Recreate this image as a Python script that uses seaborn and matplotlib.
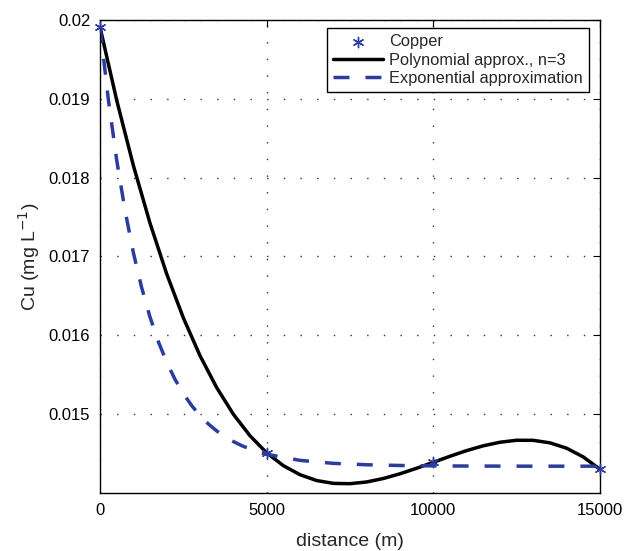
import numpy as np
import matplotlib
matplotlib.use("Agg")
import matplotlib.pyplot as plt
import seaborn as sb

# measured copper concentrations
copper_x = [0, 5000, 10000, 15000]
copper_y = [0.01991, 0.01451, 0.01439, 0.01430]

# polynomial approximation (n=3)
poly_x = [0, 500, 1000, 1500, 2000, 2500, 3000, 3500, 4000, 4500, 5000,
          5500, 6000, 6500, 7000, 7500, 8000, 8500, 9000, 9500, 10000,
          10500, 11000, 11500, 12000, 12500, 13000, 13500, 14000, 14500, 15000]
poly_y = [0.019910, 0.018983, 0.018156, 0.017423, 0.016780, 0.016222, 0.015742,
          0.015337, 0.015000, 0.014726, 0.014510, 0.014347, 0.014232, 0.014158,
          0.014122, 0.014118, 0.014140, 0.014184, 0.014244, 0.014314, 0.014390,
          0.014466, 0.014538, 0.014599, 0.014644, 0.014669, 0.014668, 0.014636,
          0.014568, 0.014457, 0.014300]

# exponential approximation
exp_x = [0, 250, 500, 750, 1000, 1250, 1500, 1750, 2000, 2250, 2500, 2750,
         3000, 3250, 3500, 3750, 4000, 4250, 4500, 4750, 5000,
         6000, 7000, 8000, 9000, 10000, 11000, 12000, 13000, 14000, 15000]
exp_y = [0.019910, 0.018993, 0.018226, 0.017586, 0.017051, 0.016605, 0.016232,
         0.015920, 0.015660, 0.015442, 0.015261, 0.015109, 0.014982, 0.014876,
         0.014788, 0.014714, 0.014653, 0.014601, 0.014558, 0.014522, 0.014492,
         0.014414, 0.014376, 0.014358, 0.014349, 0.014344, 0.014342, 0.014341,
         0.014340, 0.014340, 0.014340]

xticks = [0, 5000, 10000, 15000]
yticks = [0.015, 0.016, 0.017, 0.018, 0.019, 0.020]
ytick_labels = ["0.015", "0.016", "0.017", "0.018", "0.019", "0.02"]

blue = "#2b3c9e"

sb.set_style("white")
plt.rcParams["font.family"] = ["Liberation Sans", "DejaVu Sans"]

fig = plt.figure(figsize=(6.29, 5.51), dpi=100)
ax = fig.add_axes([100 / 629, 1 - 493 / 551, 500 / 629, 473 / 551])

sb.scatterplot(x=copper_x, y=copper_y, ax=ax, marker=(6, 2, 0), s=55,
               color=blue, edgecolor=blue, linewidth=1, label="Copper",
               zorder=5, clip_on=False)
sb.lineplot(x=poly_x, y=poly_y, ax=ax, color="black", linewidth=2.5,
            label="Polynomial approx., n=3")
sb.lineplot(x=exp_x, y=exp_y, ax=ax, color=blue, linewidth=2.5,
            label="Exponential approximation")
ax.lines[-1].set_linestyle((0, (4.6, 4.6)))

ax.set_xlim(0, 15000)
ax.set_ylim(0.014, 0.020)
ax.set_xticks(xticks)
ax.set_xticklabels([str(v) for v in xticks])
ax.set_yticks(yticks)
ax.set_yticklabels(ytick_labels)
ax.tick_params(direction="in", length=5, width=0.8, top=True, right=True,
               labelsize=12, colors="black", pad=7)
ax.grid(True, linestyle=(0, (1, 11)), color="#333333", linewidth=1.0)
for s in ax.spines.values():
    s.set_color("black")
    s.set_linewidth(1.0)

ax.set_xlabel("distance (m)", fontsize=14, labelpad=11)
ax.set_ylabel("Cu (mg L$^{-1}$)", fontsize=14, labelpad=5)

leg = ax.legend(loc="upper right", bbox_to_anchor=(489 / 500, 465 / 473),
                borderaxespad=0, handlelength=3.05, frameon=True,
                fancybox=False, framealpha=1, fontsize=11.8,
                handletextpad=0.35, borderpad=0.38, labelspacing=0.2)
leg.get_frame().set_edgecolor("black")
leg.get_frame().set_linewidth(1.0)

plt.savefig("out.png", dpi=100)
